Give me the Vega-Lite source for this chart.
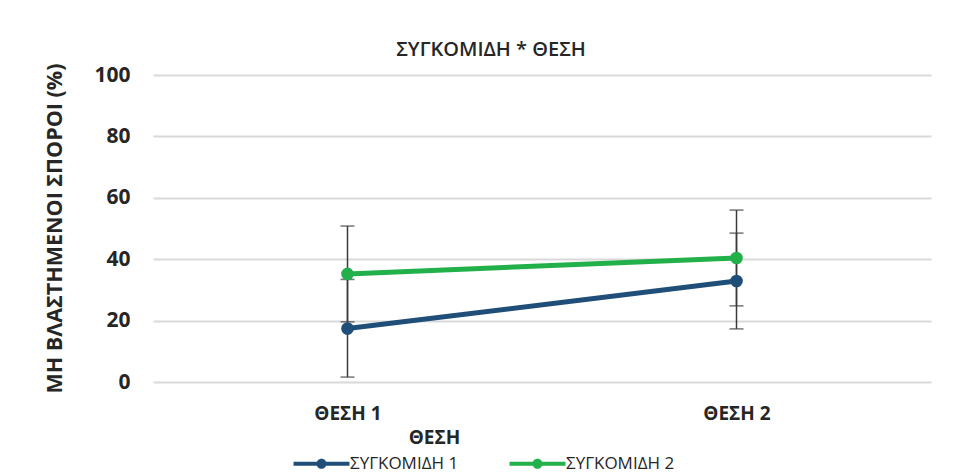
{
  "$schema": "https://vega.github.io/schema/vega-lite/v6.json",
  "autosize": {"type": "none"},
  "width": 778,
  "height": 307,
  "padding": {"left": 153, "top": 75, "right": 29, "bottom": 92},
  "background": "#ffffff",
  "title": {
    "text": "ΣΥΓΚΟΜΙΔΗ * ΘΕΣΗ",
    "anchor": "middle",
    "dx": -51,
    "offset": 3,
    "font": "Open Sans",
    "fontSize": 20,
    "fontWeight": 600,
    "color": "#262626"
  },
  "data": {
    "values": [
      {"pos": "ΘΕΣΗ 1", "series": "ΣΥΓΚΟΜΙΔΗ 1", "value": 17.4, "lo": 1.6, "hi": 33.4},
      {"pos": "ΘΕΣΗ 2", "series": "ΣΥΓΚΟΜΙΔΗ 1", "value": 32.9, "lo": 17.3, "hi": 48.5},
      {"pos": "ΘΕΣΗ 1", "series": "ΣΥΓΚΟΜΙΔΗ 2", "value": 35.2, "lo": 19.6, "hi": 50.8},
      {"pos": "ΘΕΣΗ 2", "series": "ΣΥΓΚΟΜΙΔΗ 2", "value": 40.4, "lo": 24.8, "hi": 56.0}
    ]
  },
  "encoding": {
    "x": {
      "field": "pos",
      "type": "ordinal",
      "scale": {"type": "point", "padding": 0.5},
      "axis": {
        "title": "ΘΕΣΗ",
        "labelAngle": 0,
        "labelFont": "Open Sans",
        "labelFontSize": 19,
        "labelFontWeight": "bold",
        "labelColor": "#262626",
        "labelPadding": 22,
        "domain": false,
        "ticks": false,
        "grid": false,
        "titleFont": "Open Sans",
        "titleFontSize": 19,
        "titleFontWeight": "bold",
        "titleColor": "#262626",
        "titleX": 281,
        "titleY": 55,
        "titleAlign": "center",
        "titleBaseline": "middle"
      }
    }
  },
  "layer": [
    {
      "mark": {"type": "errorbar", "ticks": {"size": 14, "thickness": 1.5}, "rule": {"strokeWidth": 1.5}, "color": "#3a3a3a"},
      "encoding": {
        "y": {"field": "lo", "type": "quantitative", "scale": {"domain": [0, 100]}, "title": "ΜΗ ΒΛΑΣΤΗΜΕΝΟΙ ΣΠΟΡΟΙ (%)"},
        "y2": {"field": "hi"},
        "detail": {"field": "series"}
      }
    },
    {
      "mark": {"type": "line", "strokeWidth": 5},
      "encoding": {
        "y": {
          "field": "value",
          "type": "quantitative",
          "scale": {"domain": [0, 100]},
          "title": "ΜΗ ΒΛΑΣΤΗΜΕΝΟΙ ΣΠΟΡΟΙ (%)",
          "axis": {
            "values": [0, 20, 40, 60, 80, 100],
            "labelFont": "Open Sans",
            "labelFontSize": 21,
            "labelFontWeight": "bold",
            "labelColor": "#262626",
            "labelPadding": 23,
            "domain": false,
            "ticks": false,
            "grid": true,
            "gridColor": "#d9d9d9",
            "gridWidth": 2,
            "titleFont": "Open Sans",
            "titleFontSize": 21.5,
            "titleFontWeight": "bold",
            "titleColor": "#262626",
            "titleX": -98,
            "titleY": 153,
            "titleAngle": 270,
            "titleAlign": "center",
            "titleBaseline": "middle"
          }
        },
        "color": {
          "field": "series",
          "type": "nominal",
          "scale": {"domain": ["ΣΥΓΚΟΜΙΔΗ 1", "ΣΥΓΚΟΜΙΔΗ 2"], "range": ["#1f4e79", "#22b04b"]},
          "legend": {
            "title": null,
            "orient": "none",
            "direction": "horizontal",
            "legendX": 157,
            "legendY": 377,
            "symbolType": "M-2.5,-0.17L2.5,-0.17L2.5,0.17L-2.5,0.17ZM-0.45,0A0.45,0.45 0 1,1 0.45,0A0.45,0.45 0 1,1 -0.45,0Z",
            "symbolSize": 500,
            "symbolStrokeWidth": 0,
            "labelOffset": 17,
            "columnPadding": 50,
            "labelFont": "Open Sans",
            "labelFontSize": 17,
            "labelColor": "#262626",
            "encode": {
              "symbols": {"update": {"fill": {"scale": "color", "field": "value"}, "strokeWidth": {"value": 0}, "opacity": {"value": 1}}}
            }
          }
        }
      }
    },
    {
      "mark": {"type": "point", "filled": true, "size": 160, "opacity": 1},
      "encoding": {
        "y": {"field": "value", "type": "quantitative", "title": "ΜΗ ΒΛΑΣΤΗΜΕΝΟΙ ΣΠΟΡΟΙ (%)"},
        "color": {"field": "series", "type": "nominal"}
      }
    }
  ],
  "config": {
    "view": {"stroke": null}
  }
}
